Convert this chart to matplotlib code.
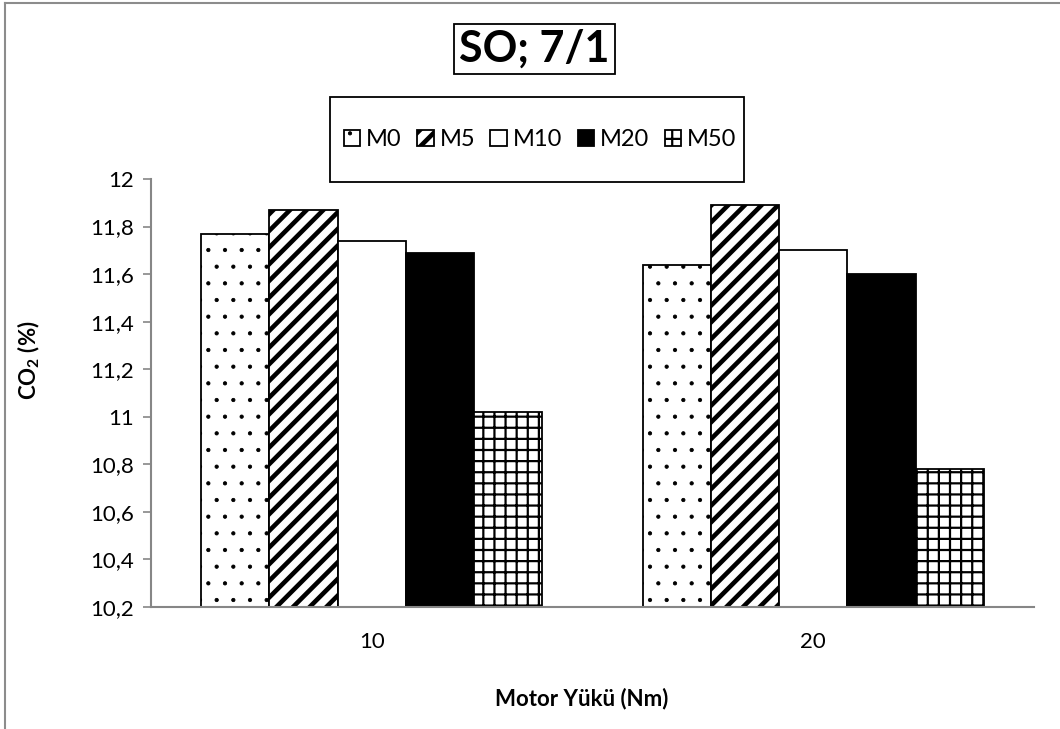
import matplotlib
matplotlib.use("Agg")
import matplotlib.pyplot as plt
import numpy as np
from matplotlib.backend_bases import GraphicsContextBase
from matplotlib.lines import Line2D
from matplotlib.patches import Rectangle

# ---------------- data ----------------
categories = ["10", "20"]
series_names = ["M0", "M5", "M10", "M20", "M50"]
m0 = [11.77, 11.64]
m5 = [11.87, 11.89]
m10 = [11.74, 11.70]
m20 = [11.69, 11.60]
m50 = [11.02, 10.78]
yticks = [10.2, 10.4, 10.6, 10.8, 11.0, 11.2, 11.4, 11.6, 11.8, 12.0]
ytick_labels = ["10,2", "10,4", "10,6", "10,8", "11", "11,2", "11,4", "11,6", "11,8", "12"]
title = "SO; 7/1"
xlabel = "Motor Yükü (Nm)"
ylabel = "CO$_{2}$ (%)"

# ---------------- hatch tuning ----------------
HATCH_DENSITY = {"+": 9.0, ".": 6.5}
HATCH_LW = {".": 0.6, "//": 3.3, "+": 1.6}
_orig_hp = GraphicsContextBase.get_hatch_path
def _hp(self, density=6.0):
    return _orig_hp(self, HATCH_DENSITY.get(self.get_hatch(), density))
GraphicsContextBase.get_hatch_path = _hp
if hasattr(GraphicsContextBase, "get_hatch_linewidth"):
    _orig_lw = GraphicsContextBase.get_hatch_linewidth
    def _hlw(self):
        return HATCH_LW.get(self.get_hatch(), _orig_lw(self))
    GraphicsContextBase.get_hatch_linewidth = _hlw

plt.rcParams["font.family"] = ["Lato", "DejaVu Sans"]
plt.rcParams["mathtext.fontset"] = "custom"
plt.rcParams["mathtext.rm"] = "Lato:bold"
plt.rcParams["mathtext.bf"] = "Lato:bold"
plt.rcParams["mathtext.default"] = "bf"

fig = plt.figure(figsize=(10.6, 7.29), dpi=100)
W, H = 1060, 729
ax = fig.add_axes([151 / W, 1 - 607 / H, (1034 - 151) / W, (607 - 179) / H])

series = [m0, m5, m10, m20, m50]
hatches = [".", "//", "", "", "+"]
faces = ["white", "white", "white", "black", "white"]
x = np.arange(len(categories))
bw = 0.1545
handles = []
for i, (vals, h, fc, name) in enumerate(zip(series, hatches, faces, series_names)):
    bars = ax.bar(x + (i - 2) * bw, vals, width=bw, color=fc, edgecolor="black",
                  linewidth=1.3, hatch=h, label=name, zorder=2)
    handles.append(bars)

ax.set_xlim(-0.5, 1.5)
ax.set_ylim(10.2, 12.0)
ax.set_yticks(yticks)
ax.set_yticklabels(ytick_labels)
ax.set_xticks(x)
ax.set_xticklabels(categories)
ax.tick_params(axis="y", length=6, width=1.2, color="#868686", labelsize=16, pad=6)
ax.tick_params(axis="x", length=0, labelsize=16, pad=18)
for s in ["top", "right"]:
    ax.spines[s].set_visible(False)
for s in ["left", "bottom"]:
    ax.spines[s].set_color("#868686")
    ax.spines[s].set_linewidth(1.5)
    ax.spines[s].set_zorder(3)

ax.set_xlabel(xlabel, fontsize=16, fontweight="bold")
ax.xaxis.set_label_coords(0.488, -0.189)
ax.set_ylabel(ylabel, fontsize=16, fontweight="bold")
ax.yaxis.set_label_coords(-0.124, 0.577)

# title with box
fig.text(534.5 / W, 1 - 49 / H, title, fontsize=31, fontweight="bold",
         ha="center", va="center",
         bbox=dict(boxstyle="square,pad=0.12", facecolor="white", edgecolor="black", linewidth=1.3))

# legend with box
fig.patches.append(Rectangle((330 / W, 1 - 182 / H), 414 / W, 85 / H, transform=fig.transFigure,
                             facecolor="white", edgecolor="black", linewidth=1.3, zorder=1))
leg = fig.legend(handles=handles, labels=series_names, loc="center",
                 bbox_to_anchor=(540 / W, 1 - 140 / H), ncol=5, frameon=False,
                 fontsize=17, handlelength=0.7, handleheight=0.65, handletextpad=0.25,
                 columnspacing=0.65)

# outer gray frame (top and left)
fig.add_artist(Line2D([5 / W, 1.0], [1 - 2.5 / H, 1 - 2.5 / H], transform=fig.transFigure,
                      color="#8c8c8c", linewidth=1.5))
fig.add_artist(Line2D([5 / W, 5 / W], [0, 1 - 2.5 / H], transform=fig.transFigure,
                      color="#8c8c8c", linewidth=1.5))

fig.savefig("out.png", dpi=100)
